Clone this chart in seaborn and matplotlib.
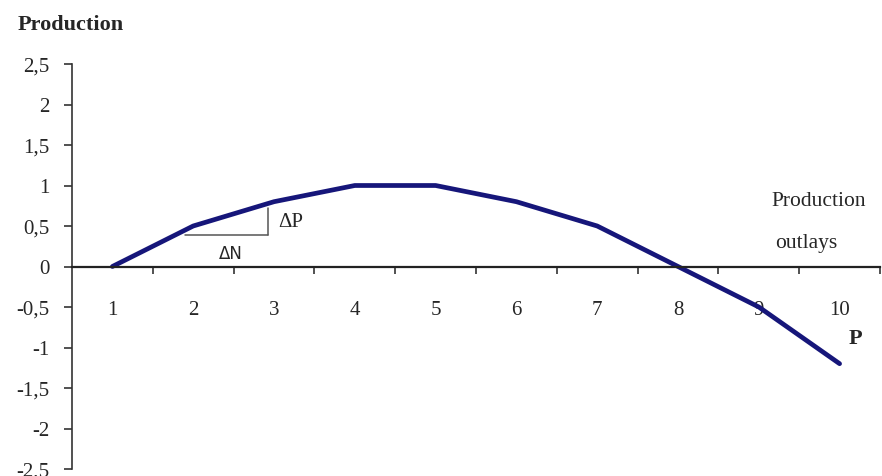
import matplotlib
matplotlib.use("Agg")
import matplotlib.pyplot as plt
import seaborn as sns
import pandas as pd

# values
outlays = [1, 2, 3, 4, 5, 6, 7, 8, 9, 10]
production = [0, 0.5, 0.8, 1.0, 1.0, 0.8, 0.5, 0, -0.5, -1.2]
y_ticks = [-2.5, -2, -1.5, -1, -0.5, 0, 0.5, 1, 1.5, 2, 2.5]
y_labels = ["-2,5", "-2", "-1,5", "-1", "-0,5", "0", "0,5", "1", "1,5", "2", "2,5"]

df = pd.DataFrame({"N": outlays, "P": production})

sns.set_style("white")
plt.rcParams["font.family"] = ["Liberation Serif", "DejaVu Serif"]

fig = plt.figure(figsize=(8.82, 4.77), dpi=100)
ax = fig.add_axes([72 / 882, 7 / 477, 808 / 882, 405 / 477])

sns.lineplot(data=df, x="N", y="P", color="#16167a", linewidth=3.4, ax=ax)

ax.set_xlim(0.5, 10.5)
ax.set_ylim(-2.5, 2.5)

# axes: y on the left, x through zero
ax.spines["top"].set_visible(False)
ax.spines["right"].set_visible(False)
ax.spines["bottom"].set_position(("data", 0))
ax.spines["left"].set_color("#333333")
ax.spines["bottom"].set_color("#222222")
ax.spines["left"].set_linewidth(1.2)
ax.spines["bottom"].set_linewidth(1.6)

ax.set_yticks(y_ticks)
ax.set_yticklabels(y_labels, fontsize=15)
ax.tick_params(axis="y", direction="out", length=6, width=1.2, color="#333333", pad=10, left=True)

ax.set_xticks(outlays)
ax.set_xticklabels([str(v) for v in outlays], fontsize=15)
ax.set_xticks([v + 0.5 for v in outlays[:-1]] + [10.5], minor=True)
ax.tick_params(axis="x", which="major", length=0, pad=24, bottom=True)
ax.tick_params(axis="x", which="minor", direction="out", length=5, width=1.2, color="#333333", bottom=True)

ax.set_xlabel("")
ax.set_ylabel("")

# titles and annotations
fig.text(18 / 882, 1 - 25 / 477, "Production", fontsize=16, fontweight="bold", va="center", ha="left")
ax.text(9.16, 0.82, "Production", fontsize=15.5, ha="left", va="center")
ax.text(9.2, 0.3, "outlays", fontsize=15.5, ha="left", va="center")
ax.text(10.2, -0.88, "P", fontsize=16, fontweight="bold", ha="center", va="center")

# increment triangle
ax.plot([1.9, 2.93], [0.39, 0.39], color="#555555", linewidth=1.1)
ax.plot([2.93, 2.93], [0.39, 0.72], color="#555555", linewidth=1.1)
ax.text(3.05, 0.56, "ΔP", fontsize=15, ha="left", va="center")
ax.text(2.47, 0.17, "ΔN", fontsize=12, ha="center", va="center", family=["DejaVu Sans"])

fig.savefig("out.png", dpi=100)
